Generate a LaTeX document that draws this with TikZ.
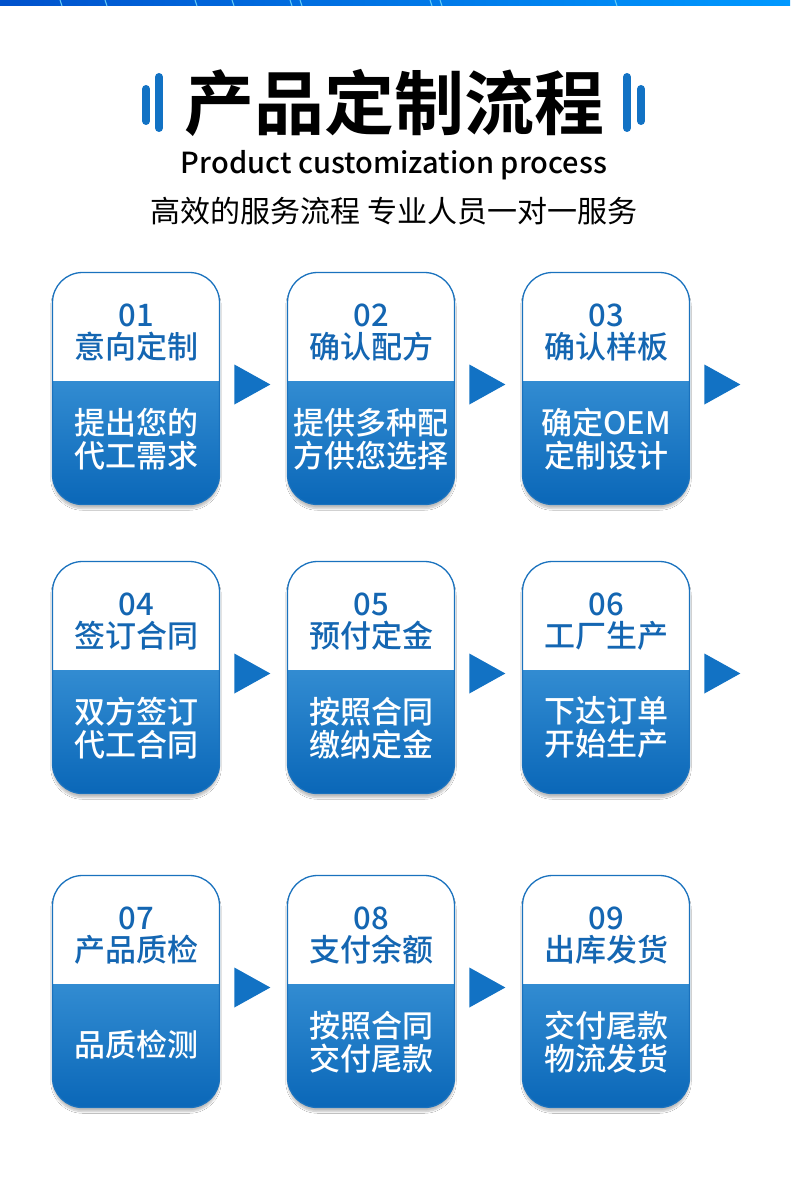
\documentclass[tikz,border=0pt]{standalone}
\usepackage{fontspec}
\newfontfamily\cjk{Noto Sans CJK SC}
\newfontfamily\cjkmed{Noto Sans CJK SC Medium}
\newfontfamily\cjkbold{Noto Sans CJK SC Bold}
\usetikzlibrary{positioning,calc,shapes.geometric,shadows.blur}

\definecolor{cardblue}{HTML}{1A72BE}
\definecolor{textblue}{HTML}{1466B2}
\definecolor{lightblue}{HTML}{55ACE8}
\definecolor{darkblue}{HTML}{0A67B8}
\definecolor{barblue}{HTML}{1272C4}

\tikzset{
  card/.style={draw=cardblue, line width=1.3pt, rounded corners=30pt,
    minimum width=167pt, minimum height=232pt, inner sep=0pt, fill=white,
    blur shadow={shadow xshift=0pt, shadow yshift=-4pt, shadow blur steps=8, shadow opacity=25},
    path picture={\shade[sharp corners, top color=lightblue, bottom color=darkblue]
      ($(path picture bounding box.north west)+(0pt,-109pt)$) rectangle (path picture bounding box.south east);}},
  numtxt/.style={font=\cjkmed\fontsize{31}{31}\selectfont, text=textblue, inner sep=0pt},
  headtxt/.style={font=\cjkmed\fontsize{31}{31}\selectfont, text=textblue, inner sep=0pt},
  bodytxt/.style={font=\cjkmed\fontsize{31}{33}\selectfont, text=white, align=center, inner sep=0pt},
  arrowtri/.style={isosceles triangle, isosceles triangle stretches, fill=barblue,
    minimum width=40pt, minimum height=36pt, inner sep=0pt, yshift=4pt},
  titlebar/.style={line width=8pt, line cap=round, barblue}
}

\begin{document}
\begin{tikzpicture}[x=1pt, y=-1pt]
  \useasboundingbox (0,0) rectangle (790,1185);
  \fill[white] (0,0) rectangle (790,1185);
  % top strip
  \shade[left color=blue!60!cyan!80!black, right color=cyan!60!blue] (0,0) rectangle (790,6);
  \foreach \x in {60,105,195,232,290,300,430,440,615} \draw[cyan!60, line width=1pt] (\x,0) -- (\x+2,6);

  % heading
  \node[font=\cjkbold\fontsize{70}{70}\selectfont] (title) at (394,103) {产品定制流程};
  \draw[titlebar] (146,89) -- (146,121);
  \draw[titlebar] (159,77) -- (159,128);
  \draw[titlebar] (627,77) -- (627,128);
  \draw[titlebar] (641,89) -- (641,121);
  \node[font=\cjkmed\fontsize{29}{29}\selectfont, below=7pt of title] (sub) {Product customization process};
  \node[font=\cjk\fontsize{30}{30}\selectfont, below=10pt of sub] (slogan) {高效的服务流程 专业人员一对一服务};

  % row 1
  \node[card] (c1) at (136,388.5) {};
  \node[numtxt] at ($(c1.north)+(0,44)$) (n1) {01};
  \node[headtxt] at ($(c1.north)+(0,75)$) (h1) {意向定制};
  \node[bodytxt] at ($(c1.north)+(0,167)$) (b1) {提出您的\\代工需求};
  \node[card] (c2) at (371,388.5) {};
  \node[numtxt] at ($(c2.north)+(0,44)$) (n2) {02};
  \node[headtxt] at ($(c2.north)+(0,75)$) (h2) {确认配方};
  \node[bodytxt] at ($(c2.north)+(0,167)$) (b2) {提供多种配\\方供您选择};
  \node[card] (c3) at (606,388.5) {};
  \node[numtxt] at ($(c3.north)+(0,44)$) (n3) {03};
  \node[headtxt] at ($(c3.north)+(0,75)$) (h3) {确认样板};
  \node[bodytxt] at ($(c3.north)+(0,167)$) (b3) {确定OEM\\定制设计};
  \node[arrowtri, right=14pt of c1] (a12) {};
  \node[arrowtri, right=14pt of c2] (a23) {};
  \node[arrowtri, right=14pt of c3] (a34) {};

  % row 2
  \node[card] (c4) at (136,677.5) {};
  \node[numtxt] at ($(c4.north)+(0,44)$) (n4) {04};
  \node[headtxt] at ($(c4.north)+(0,75)$) (h4) {签订合同};
  \node[bodytxt] at ($(c4.north)+(0,167)$) (b4) {双方签订\\代工合同};
  \node[card] (c5) at (371,677.5) {};
  \node[numtxt] at ($(c5.north)+(0,44)$) (n5) {05};
  \node[headtxt] at ($(c5.north)+(0,75)$) (h5) {预付定金};
  \node[bodytxt] at ($(c5.north)+(0,167)$) (b5) {按照合同\\缴纳定金};
  \node[card] (c6) at (606,677.5) {};
  \node[numtxt] at ($(c6.north)+(0,44)$) (n6) {06};
  \node[headtxt] at ($(c6.north)+(0,75)$) (h6) {工厂生产};
  \node[bodytxt] at ($(c6.north)+(0,167)$) (b6) {下达订单\\开始生产};
  \node[arrowtri, right=14pt of c4] (a45) {};
  \node[arrowtri, right=14pt of c5] (a56) {};
  \node[arrowtri, right=14pt of c6] (a67) {};

  % row 3
  \node[card] (c7) at (136,991.5) {};
  \node[numtxt] at ($(c7.north)+(0,44)$) (n7) {07};
  \node[headtxt] at ($(c7.north)+(0,75)$) (h7) {产品质检};
  \node[bodytxt] at ($(c7.north)+(0,170)$) (b7) {品质检测};
  \node[card] (c8) at (371,991.5) {};
  \node[numtxt] at ($(c8.north)+(0,44)$) (n8) {08};
  \node[headtxt] at ($(c8.north)+(0,75)$) (h8) {支付余额};
  \node[bodytxt] at ($(c8.north)+(0,167)$) (b8) {按照合同\\交付尾款};
  \node[card] (c9) at (606,991.5) {};
  \node[numtxt] at ($(c9.north)+(0,44)$) (n9) {09};
  \node[headtxt] at ($(c9.north)+(0,75)$) (h9) {出库发货};
  \node[bodytxt] at ($(c9.north)+(0,167)$) (b9) {交付尾款\\物流发货};
  \node[arrowtri, right=14pt of c7] (a78) {};
  \node[arrowtri, right=14pt of c8] (a89) {};
\end{tikzpicture}
\end{document}
